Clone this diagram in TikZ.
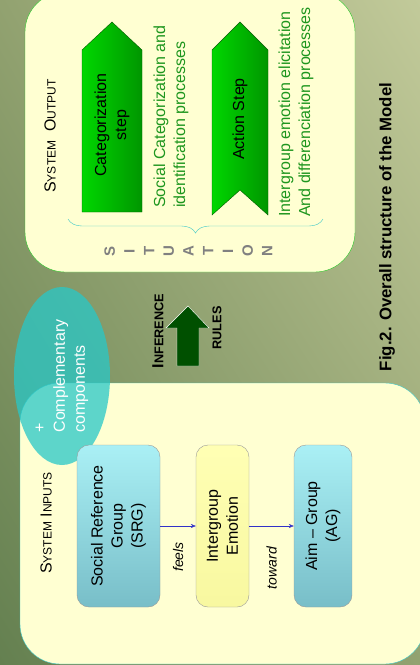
\documentclass[tikz,border=0pt]{standalone}
\usepackage{fontspec}
\setmainfont{Liberation Sans}
\usetikzlibrary{positioning, shapes.geometric, shadings, decorations.pathreplacing, arrows.meta}
\definecolor{bgdark}{RGB}{100,128,80}
\definecolor{bgmid}{RGB}{146,162,112}
\definecolor{bglight}{RGB}{194,202,154}
\definecolor{boxfill}{RGB}{255,255,210}
\definecolor{outgreen}{RGB}{40,200,40}
\definecolor{incyan}{RGB}{60,200,200}
\definecolor{steplight}{RGB}{0,215,0}
\definecolor{stepdark}{RGB}{0,150,0}
\definecolor{textgreen}{RGB}{30,150,30}
\definecolor{rulegreen}{RGB}{0,80,0}
\definecolor{compteal}{RGB}{40,200,200}
\definecolor{cyanlight}{RGB}{170,240,245}
\definecolor{cyandark}{RGB}{120,190,200}
\definecolor{emolight}{RGB}{255,255,180}
\definecolor{emodark}{RGB}{248,248,160}
\definecolor{linkblue}{RGB}{50,50,200}
\definecolor{situgray}{RGB}{128,128,128}
\newcommand{\capsmix}[2]{{\fontsize{16}{20}\selectfont #1}{\fontsize{12}{20}\selectfont #2}}

\begin{document}
\begin{tikzpicture}[x=1pt, y=-1pt,
  vtext/.style={rotate=90, inner sep=0pt, align=center, font=\fontsize{16}{20}\selectfont},
  desc/.style={vtext, align=left, anchor=west, text=textgreen},
  group/.style={rectangle, rotate=90, draw=gray!80, rounded corners=12pt,
    minimum width=162pt, inner sep=2pt, align=center, font=\fontsize{16}{20}\selectfont,
    top color=cyanlight, bottom color=cyandark},
  emobox/.style={group, top color=emolight, bottom color=emodark},
  stepshape/.style={left color=steplight, right color=stepdark, draw=stepdark!60!black, thin},
  link/.style={-{Stealth[length=5pt, width=4pt]}, linkblue},
  linklabel/.style={rotate=90, inner sep=0pt, text=black, font=\fontsize{14}{16}\selectfont\itshape},
  situletter/.style={rotate=90, inner sep=0pt, text=situgray, font=\fontsize{15}{16}\selectfont\bfseries}
]
\useasboundingbox (0,0) rectangle (420,665);
\shade[lower left=bgdark, upper right=bglight, upper left=bgmid, lower right=bgmid] (0,0) rectangle (420,665);

% System output
\draw[outgreen, fill=boxfill, rounded corners=40pt] (25,-8) rectangle (355,272);
\node[vtext] (outtitle) at (50,136) {\capsmix{S}{YSTEM}\ \ \capsmix{O}{UTPUT}};

\shade[stepshape] (82,212) -- (82,50) -- (112,22) -- (142,50) -- (142,212) -- cycle;
\node[vtext] (catstep) at (112,125) {Categorization\\step};
\node[desc] (catdesc) at (171,208) {Social Categorization and\\identification processes};

\shade[stepshape] (212,215) -- (212,50) -- (240,22) -- (268,50) -- (268,215) -- (240,190) -- cycle;
\node[vtext] (actstep) at (240,119) {Action Step};
\node[desc] (actdesc) at (296,217) {Intergroup emotion elicitation\\And differenciation processes};

\draw[incyan, decorate, decoration={brace, mirror, amplitude=14pt}] (68,219) -- (323,219);
\foreach \ch [count=\i] in {S,I,T,U,A,T,I,O,N}
  \node[situletter] (situ\i) at ({90+19.7*\i},251) {\ch};

% Inference rules
\draw[fill=rulegreen, draw=white, thin] (177,366) -- (177,328) -- (166,328) -- (188,306)
  -- (209,328) -- (199,328) -- (199,366) -- cycle;
\node[vtext, font=\bfseries] (infer) at (158,331) {{\fontsize{16}{20}\selectfont I}{\fontsize{12.7}{20}\selectfont NFERENCE}};
\node[vtext, font=\fontsize{12.7}{20}\selectfont\bfseries] (rules) at (217,328) {RULES};

\node[vtext, font=\fontsize{16.8}{20}\selectfont\bfseries] (caption) at (387,227) {Fig.2. Overall structure of the Model};

% System inputs
\draw[incyan, fill=boxfill, rounded corners=40pt] (20,383) rectangle (425,664);
\node[ellipse, fill=compteal, fill opacity=0.75, minimum width=96pt, minimum height=178pt] (compell) at (62,376) {};
\node[vtext, align=left, text=white] (comptext) at (62,376) {+\\Complementary\\components};
\node[vtext] (intitle) at (46,523) {\capsmix{S}{YSTEM} \capsmix{I}{NPUTS}};

\node[group, minimum height=83pt] (srg) at (118.5,526) {Social Reference\\Group\\(SRG)};
\node[emobox, minimum height=53pt] (emo) at (222.5,526) {Intergroup\\Emotion};
\node[group, minimum height=58pt] (ag) at (323,526) {Aim -- Group\\(AG)};

\draw[link] (srg) -- node[midway, yshift=-31pt, linklabel] (feels) {feels} (emo);
\draw[link] (emo) -- node[midway, yshift=-42pt, linklabel] (toward) {toward} (ag);
\end{tikzpicture}
\end{document}
